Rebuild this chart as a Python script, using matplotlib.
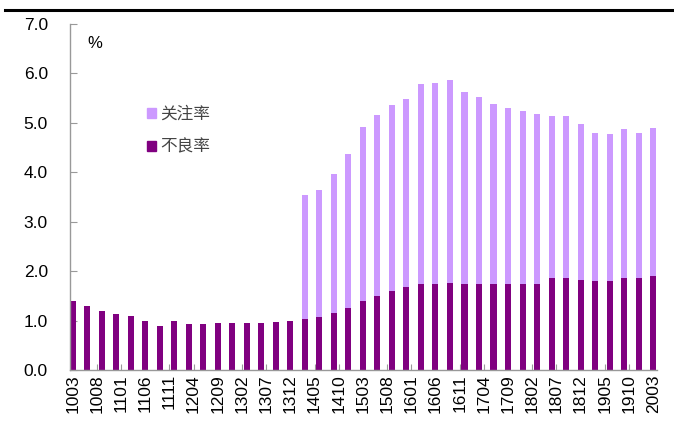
import numpy as np
import matplotlib
matplotlib.use("Agg")
import matplotlib.pyplot as plt
import matplotlib.patches as patches
from matplotlib.lines import Line2D

plt.rcParams['font.family'] = ['Liberation Sans', 'DejaVu Sans']

# quarterly data, 2010Q1 .. 2020Q1
quarters = [f"{y % 100:02d}{m:02d}" for y in range(2010, 2021) for m in (3, 6, 9, 12)][:41]
npl = [1.40, 1.30, 1.20, 1.14, 1.10, 1.00, 0.90, 1.00,
       0.94, 0.94, 0.95, 0.95, 0.96, 0.96, 0.97, 1.00,
       1.04, 1.08, 1.16, 1.25, 1.39, 1.50, 1.59, 1.67,
       1.75, 1.75, 1.76, 1.74, 1.74, 1.74, 1.74, 1.74,
       1.75, 1.86, 1.87, 1.83, 1.80, 1.81, 1.86, 1.86, 1.91]
# special mention ratio, only reported from 2014Q1
attention = [0] * 16 + [2.51, 2.56, 2.80, 3.12, 3.53, 3.66, 3.78, 3.81,
                        4.03, 4.06, 4.11, 3.89, 3.78, 3.64, 3.57, 3.50,
                        3.43, 3.28, 3.27, 3.14, 3.00, 2.96, 3.02, 2.93, 2.99]
# axis labels every 5 months from 1003 to 2003
tick_labels = ["1003", "1008", "1101", "1106", "1111", "1204", "1209", "1302",
               "1307", "1312", "1405", "1410", "1503", "1508", "1601", "1606",
               "1611", "1704", "1709", "1802", "1807", "1812", "1905", "1910", "2003"]

dark = "#800080"
light = "#CC99FF"

# x position = months since 2010-03
x = np.arange(len(quarters)) * 3
tick_pos = np.arange(len(tick_labels)) * 5

fig = plt.figure(figsize=(6.74, 4.23), dpi=100)
ax = fig.add_axes([70 / 674, 1 - 370 / 423, 587 / 674, 346 / 423])

ax.bar(x, npl, width=1.25, color=dark, label="不良率", zorder=2)
ax.bar(x, attention, width=1.25, bottom=npl, color=light, label="关注率", zorder=2)

ax.set_xlim(-0.55, 120.8)
ax.set_ylim(0, 7)
ax.set_yticks(np.arange(0, 7.1, 1.0))
ax.set_yticklabels([f"{v:.1f}" for v in np.arange(0, 7.1, 1.0)], fontsize=12.5)
ax.set_xticks(tick_pos)
ax.set_xticklabels(tick_labels, rotation=90, fontsize=12.5)

for s in ("top", "right"):
    ax.spines[s].set_visible(False)
for s in ("left", "bottom"):
    ax.spines[s].set_color("#999999")
    ax.spines[s].set_linewidth(1)
ax.tick_params(axis="y", direction="in", length=5, color="#999999", pad=16)
ax.tick_params(axis="x", direction="in", length=4, color="#999999", pad=3)

ax.text(0.03, 0.945, "%", transform=ax.transAxes, fontsize=12, va="center")

handles = [patches.Patch(color=light), patches.Patch(color=dark)]
leg = ax.legend(handles, ["关注率", "不良率"], loc="upper left",
                bbox_to_anchor=(147 / 674, 1 - 106 / 423), bbox_transform=fig.transFigure,
                frameon=False, borderaxespad=0, borderpad=0,
                handlelength=0.55, handleheight=0.55, handletextpad=0.25,
                labelspacing=0.95, prop={"family": ["Noto Sans CJK SC", "DejaVu Sans"], "size": 12})
for t in leg.get_texts():
    t.set_color("#444444")

# black rule across the top
fig.add_artist(Line2D([5 / 674, 1], [1 - 10 / 423] * 2, color="black", lw=2.2,
                      transform=fig.transFigure))

fig.savefig("out.png", dpi=100)
